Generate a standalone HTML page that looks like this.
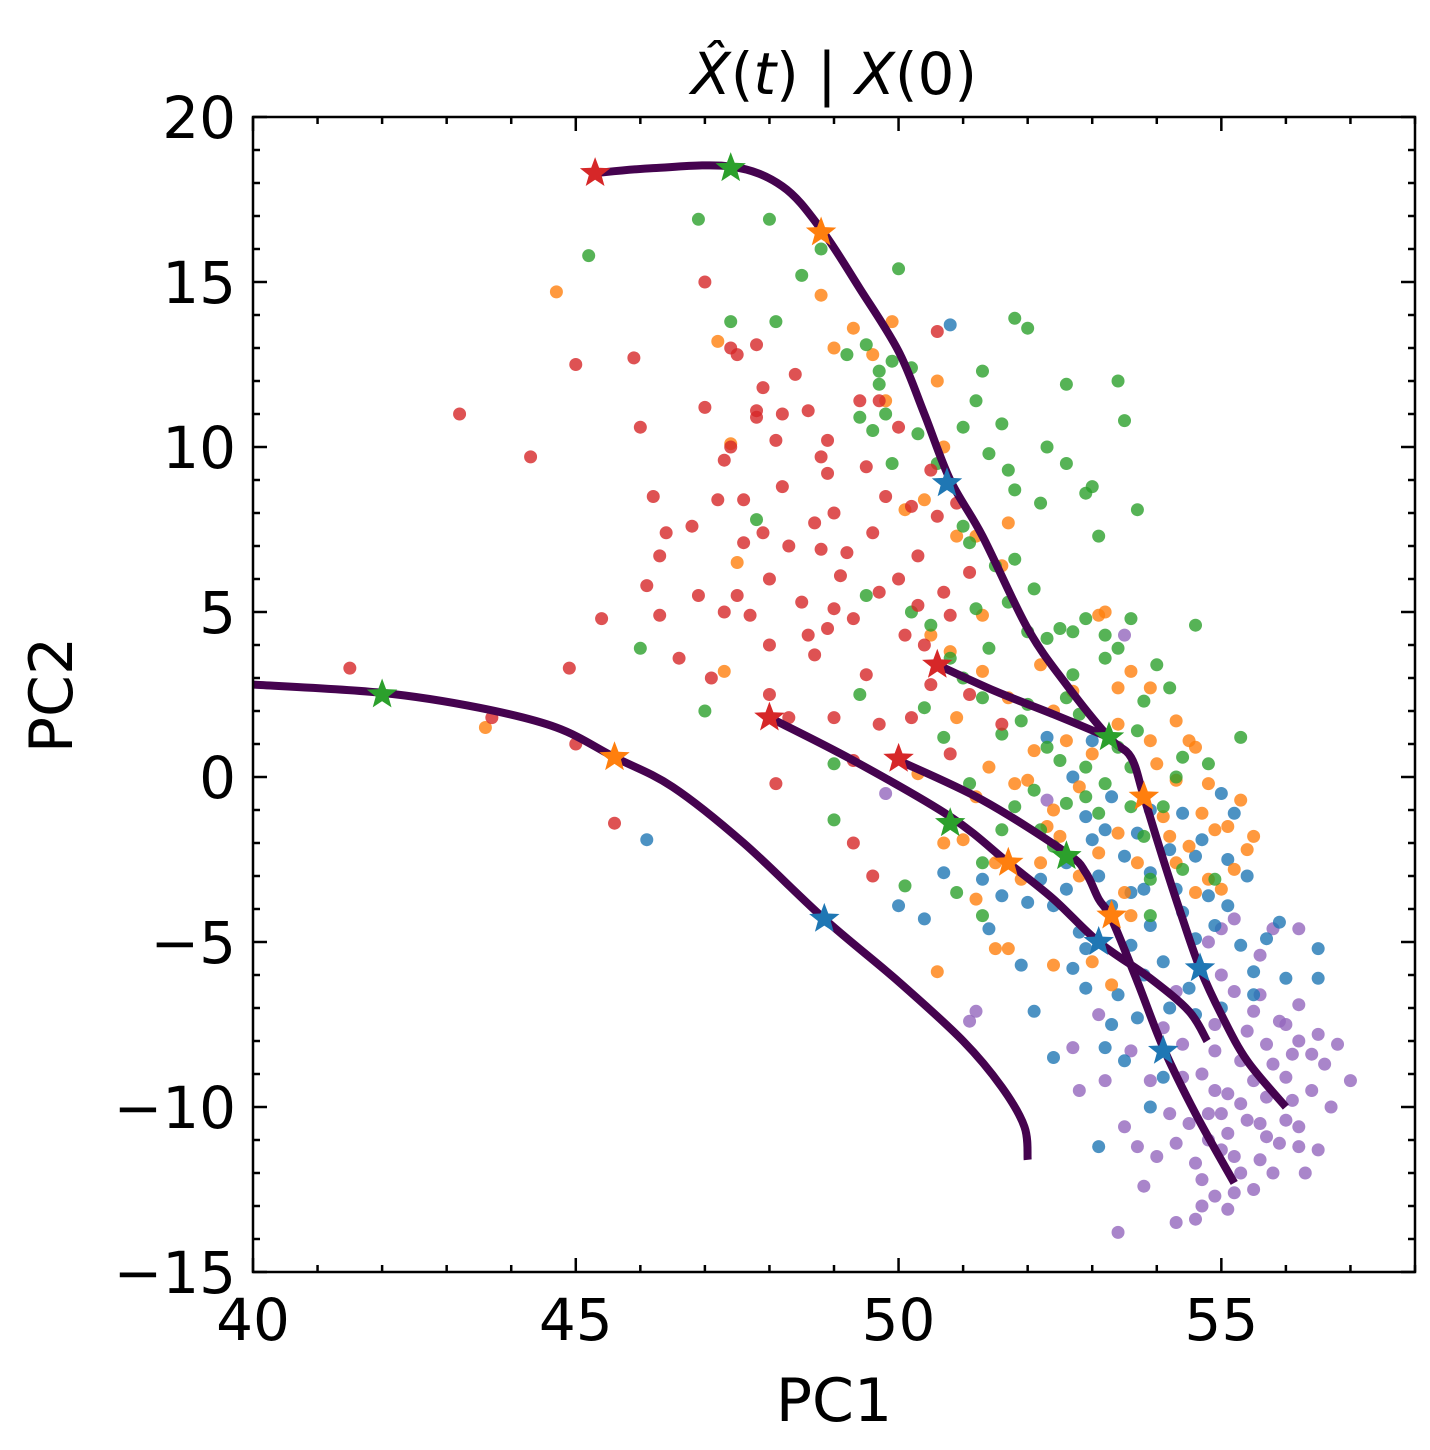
<!DOCTYPE html>
<html><head><meta charset="utf-8"><style>
html,body{margin:0;padding:0;background:#fff;}
svg{display:block;font-family:"DejaVu Sans","Liberation Sans",sans-serif;}
</style></head><body>
<svg id="chart" width="1430" height="1450" viewBox="0 0 1430 1450" xmlns="http://www.w3.org/2000/svg">
<text x="834" y="94" text-anchor="middle" font-size="58"><tspan font-style="italic">X̂</tspan>(<tspan font-style="italic">t</tspan>) | <tspan font-style="italic">X</tspan>(0)</text>
<g id="plot"></g>
<rect x="253" y="117" width="1162" height="1155" fill="none" stroke="#000" stroke-width="2.5"/>
<g id="axes"></g>
<text x="834" y="1421" text-anchor="middle" font-size="60">PC1</text>
<text x="0" y="0" transform="translate(72,695) rotate(-90)" text-anchor="middle" font-size="60">PC2</text>
</svg>
<script>
const xTicks=[40,45,50,55];
const yTicks=[-15,-10,-5,0,5,10,15,20];
const yTickLabels=["−15","−10","−5","0","5","10","15","20"];
const redPts=[[41.5,3.3],[43.2,11],[44.3,9.7],[45,12.5],[44.9,3.3],[45.4,4.8],[45.9,12.7],[46,10.6],[46.2,8.5],[46.1,5.8],[46.3,6.7],[46.4,7.4],[46.3,4.9],[46.6,3.6],[46.8,7.6],[46.9,5.5],[47,15],[47,11.2],[47.2,8.4],[47.3,9.6],[47.4,10],[47.4,13],[47.5,12.8],[47.6,7.1],[47.5,5.5],[47.6,8.4],[47.7,4.9],[47.8,11.1],[47.8,13.1],[47.9,11.8],[47.9,7.4],[48,6],[48,4],[48.1,10.2],[48.2,8.8],[48.2,11],[48.3,7],[48.4,12.2],[48.5,5.3],[48.6,11.1],[48.7,7.7],[48.8,6.9],[48.8,9.7],[48.9,10.2],[49,5.1],[49,8],[49.2,6.8],[49.3,4.8],[49.4,11.4],[49.5,9.4],[49.6,7.4],[49.7,11.4],[49.8,8.5],[50,10.6],[50,6],[50.1,4.3],[50.2,8.2],[50.3,6.7],[50.4,4],[50.5,9.3],[50.6,13.5],[50.6,7.9],[50.7,5.6],[50.8,4.9],[51.1,6.2],[48.7,3.7],[48.3,1.8],[48.1,-0.2],[49,1.8],[49.3,0.5],[49.7,1.6],[49.3,-2],[49.6,-3],[50.2,1.8],[51.1,2.5],[45.6,-1.4],[45,1],[43.7,1.8],[48.6,4.3],[47.1,3],[48,2.5],[47.8,10.9],[48.9,9.2],[49.1,6.1],[50.3,5.2],[49.7,5.6],[50.9,8.3],[50.5,2.8],[50.8,0.7],[51.6,1.6],[48.9,4.5],[47.3,5],[49.5,3.1]];
const greenPts=[[45.2,15.8],[46,3.9],[47,2],[46.9,16.9],[47.4,13.8],[48,16.9],[48.1,13.8],[48.5,15.2],[48.8,16],[49.2,12.8],[49.5,13.1],[49.7,12.3],[49.7,11.9],[49.8,11],[49.4,10.9],[49.6,10.5],[49.9,12.6],[50,15.4],[50.2,12.4],[49.9,9.5],[50.3,10.4],[50.6,9.5],[51,10.6],[51.1,7.1],[51,7.6],[51.3,12.3],[51.2,11.4],[51.4,9.8],[51.6,10.7],[51.8,13.9],[52,13.6],[51.7,9.3],[51.8,8.7],[52.2,8.3],[52.3,10],[52.6,9.5],[52.9,8.6],[53,8.8],[53.1,7.3],[52.6,11.9],[53.4,12],[53.5,10.8],[53.7,8.1],[51.8,6.6],[51.5,6.4],[51.7,5.3],[52,4.4],[52.3,4.2],[52.5,4.5],[52.7,4.4],[52.9,4.8],[53.2,4.3],[53.4,3.9],[53.6,4.8],[54,3.4],[53.8,2.3],[54.2,2.7],[54.6,4.6],[50.5,4.6],[50.8,3.6],[51,3],[51.3,2.4],[51.6,1.3],[52,2.2],[52.6,2.4],[52.8,1.9],[52.5,0.5],[52.9,0.3],[53.2,-0.2],[53.6,0.3],[54.4,0.6],[54.8,0.4],[55.3,1.2],[52.6,-0.8],[52.2,-1.6],[51.1,-0.2],[51.3,-2.6],[51.6,-1.6],[50.9,-3.5],[51.3,-4.2],[50.1,-3.3],[49,0.4],[49,-1.3],[49.4,2.5],[53.8,-1.8],[53.9,-3.1],[54.4,-2.8],[54.9,-3.1],[52.1,-0.4],[47.8,7.8],[50.2,5],[49.5,5.5],[52.9,-0.6],[53.1,-1.1],[53.4,0.9],[53.6,-0.9],[52.7,3.1],[53.2,3.6],[51.9,1.7],[52.3,0.9],[53.7,1.4],[54.1,-0.9],[52.4,-2.1],[51.8,-0.9],[50.7,1.2],[51.4,3.9],[52.1,5.7],[51.2,5.1],[50.4,2.1],[53.9,-4.2],[54.3,0]];
const orangePts=[[44.7,14.7],[43.6,1.5],[47.2,13.2],[47.4,10.1],[47.5,6.5],[47.3,3.2],[48.8,14.6],[49,13],[49.3,13.6],[49.6,12.8],[49.8,11.4],[49.9,13.8],[50.6,12],[50.4,8.4],[50.1,8.1],[50.9,7.3],[50.7,10],[51.2,7.3],[51.6,6.4],[51.7,7.7],[51.3,4.9],[50.5,4.3],[50.8,3.8],[51.3,3.2],[51.7,2.4],[52.2,3.4],[52.4,2],[52.7,2.6],[52.6,1.1],[53.1,4.9],[53.2,5],[53.6,3.2],[53.4,2.7],[53.9,2.7],[53.9,1.1],[54.3,1.7],[54.6,0.9],[54.3,-0.1],[54.8,-0.2],[55.3,-0.7],[54.7,-1.1],[55.1,-1.5],[55.5,-1.8],[54.2,-1.8],[54.5,-2.1],[54.8,-3.1],[55,-3.4],[52,-0.1],[51.2,-0.6],[51.8,-0.2],[52.4,-1],[53,0.7],[53.4,-1.7],[53.1,-2.3],[52.8,-3],[52.2,-2.6],[51.9,-3.1],[51.5,-2.6],[51,-1.9],[51.2,-3.7],[51.5,-5.2],[51.7,-5.2],[50.6,-5.9],[52.4,-5.7],[53,-5.6],[52.3,-1.5],[52.8,-0.3],[50.3,0.1],[50.7,-2],[53.5,-3.5],[53.6,-4.2],[53.3,-6.3],[54.5,1.1],[54.1,-1.2],[55.2,-2.8],[54.9,-1.6],[54,0.4],[53.7,-2.6],[52.5,-1.8],[52.1,0.8],[51.4,0.3],[50.9,1.8],[54.6,-3.5],[55.4,-2.2],[53.4,1.6],[54.3,-2.6]];
const bluePts=[[50.8,13.7],[46.1,-1.9],[50,-3.9],[50.4,-4.3],[50.7,-2.9],[51.4,-4.6],[51.6,-3.6],[52,-3.8],[52.2,-3.1],[52.6,-3.4],[52.8,-4.7],[53.3,-3.9],[53.6,-3.5],[53.9,-4.5],[54.4,-4.1],[54.8,-3.6],[55.1,-3.9],[53.2,-1.6],[52.9,-1.2],[53.3,-0.6],[53.7,-1.7],[54.4,-1.1],[54.7,-1.9],[55.1,-2.5],[55.2,-1.1],[52.7,0],[52.3,1.2],[53,1.1],[52.7,-5.8],[52.4,-8.5],[53.2,-8.2],[52.1,-7.1],[53.4,-6.6],[53.7,-7.3],[54.2,-7],[53.5,-8.6],[54.6,-4.9],[55.3,-5.1],[55.7,-4.9],[56,-6.1],[56.5,-5.2],[55.9,-4.4],[55.5,-5.9],[54.1,-9.1],[53.9,-10],[53.1,-11.2],[52.4,-3.9],[53.9,-2.9],[54.5,-6.4],[54.1,-5.6],[53.8,-6],[51.9,-5.7],[55,-7],[53,-1.9],[54.6,-2.4],[55,-0.5],[53.5,-2.4],[53.8,-3.4],[54.2,-2.2],[53.1,-3],[52.9,-5.2],[53.6,-5.1],[54.3,-3.4],[54.9,-4.5],[55.4,-3],[53.3,-7.5],[52.9,-6.4],[53.9,-1],[52.6,-2.6],[54.6,-7.2],[55.5,-6.6],[56.5,-6.1],[51.3,-3.1]];
const purplePts=[[51.1,-7.4],[51.2,-7.1],[52.7,-8.2],[53.1,-7.2],[53.6,-8.3],[53.2,-9.2],[53.5,-10.6],[52.8,-9.5],[53.7,-11.2],[53.8,-12.4],[53.4,-13.8],[54,-11.5],[54.2,-10.2],[54.4,-9.1],[54.6,-11.7],[54.9,-12.7],[54.7,-13],[54.6,-13.4],[55.1,-13.1],[54.8,-11],[55,-10.2],[55.2,-11.5],[55.4,-10.4],[55.6,-11.6],[55.8,-12],[55.5,-9.2],[55.3,-8.6],[55.7,-8.1],[56,-7.5],[56.2,-8],[56.4,-8.4],[56.6,-8.7],[56.8,-8.1],[57,-9.2],[56.5,-7.8],[56.2,-6.9],[55.9,-7.4],[55.5,-7.1],[55.2,-6.5],[55,-6],[54.8,-5],[55,-4.6],[55.2,-4.3],[55.8,-4.6],[56.2,-4.6],[55.6,-5.4],[56,-10.4],[56.2,-11.2],[56.5,-11.3],[55.9,-11.1],[55.3,-12],[54.3,-13.5],[54.7,-12.2],[55.1,-10.8],[55.7,-9.7],[56.4,-9.5],[56.1,-9.8],[55.6,-10.5],[54.5,-10.5],[54.9,-9.5],[53.5,4.3],[52.3,-0.7],[49.8,-0.5],[54.3,-6.5],[54.1,-7.6],[56.7,-10],[56.3,-12],[54.9,-8.3],[55.4,-7.7],[54.8,-10.2],[55.3,-9.9],[55,-11.3],[55.5,-12.5],[54.7,-9],[55.8,-8.7],[56,-9.1],[55.1,-9.6],[54.3,-11.1],[55.6,-6.6],[56.1,-8.4],[55.2,-12.6],[54.9,-7.5],[55.7,-10.9],[56.2,-10.6],[53.9,-9.2],[54.4,-8.1]];
const trajTop=[[45.3,18.3],[46.2,18.45],[47.4,18.5],[48.2,17.9],[48.8,16.6],[49.4,14.8],[50,12.9],[50.4,11],[50.8,9],[51.3,7.3],[52,4.5],[52.6,2.8],[53.26,1.2],[53.6,0.6],[53.8,-0.6],[54.1,-2.5],[54.4,-4.3],[54.67,-5.8],[55,-7.2],[55.4,-8.6],[56,-10]];
const trajRedA=[[50.6,3.4],[51.5,2.6],[52.4,1.9],[53.26,1.2]];
const trajRedB=[[48,1.8],[49.3,0.5],[50.8,-1.2],[51.7,-2.6],[52.4,-3.7],[53.1,-5],[53.9,-6.1],[54.5,-7.1],[54.78,-8.0]];
const trajRedC=[[50,0.5],[51.3,-0.7],[52.6,-2.3],[52.9,-2.9],[53.1,-3.7],[53.3,-4.3],[53.7,-6.2],[54.1,-8.2],[54.6,-10.2],[55.2,-12.3]];
const trajLeft=[[40,2.8],[42,2.55],[43.5,2.1],[44.7,1.5],[45.6,0.6],[46.5,-0.3],[47.6,-2],[48.85,-4.3],[50,-6.2],[51,-8],[51.6,-9.4],[51.95,-10.6],[52,-11.6]];
const starsRed=[[45.3,18.3],[50.6,3.4],[48,1.8],[50,0.55]];
const starsGreen=[[47.4,18.45],[42,2.5],[53.26,1.2],[50.8,-1.4],[52.6,-2.4]];
const starsOrange=[[48.8,16.5],[45.6,0.6],[53.8,-0.6],[51.7,-2.6],[53.3,-4.2]];
const starsBlue=[[50.75,8.9],[48.85,-4.3],[54.67,-5.8],[53.1,-5.0],[54.1,-8.3]];

const NS="http://www.w3.org/2000/svg";
const X0=253,X1=1415,Y0=1272,Y1=117;
function sx(v){return X0+(v-40)/18*(X1-X0);}
function sy(v){return Y0-(v+15)/35*(Y0-Y1);}
const plot=document.getElementById('plot');
const axes=document.getElementById('axes');
function mk(tag,attrs,parent){const e=document.createElementNS(NS,tag);for(const k in attrs)e.setAttribute(k,attrs[k]);parent.appendChild(e);return e;}

const scatter=[[purplePts,'#9467bd','purple'],[bluePts,'#1f77b4','blue'],[orangePts,'#ff7f0e','orange'],[greenPts,'#2ca02c','green'],[redPts,'#d62728','red']];
scatter.forEach(([pts,col,nm])=>{
  pts.forEach(p=>{
    const c=mk('circle',{cx:sx(p[0]),cy:sy(p[1]),r:6.5,fill:col,'fill-opacity':0.8},plot);
    
    
  });
});
function smooth(pts){
  const P=pts.map(p=>[sx(p[0]),sy(p[1])]);
  let d='M'+P[0][0]+','+P[0][1];
  for(let i=0;i<P.length-1;i++){
    const p0=P[Math.max(i-1,0)],p1=P[i],p2=P[i+1],p3=P[Math.min(i+2,P.length-1)];
    const c1=[p1[0]+(p2[0]-p0[0])/6,p1[1]+(p2[1]-p0[1])/6];
    const c2=[p2[0]-(p3[0]-p1[0])/6,p2[1]-(p3[1]-p1[1])/6];
    d+=' C'+c1+' '+c2+' '+p2;
  }
  return d;
}
[[trajTop,'trajectory-top'],[trajRedA,'trajectory-a'],[trajRedB,'trajectory-b'],[trajRedC,'trajectory-c'],[trajLeft,'trajectory-left']].forEach(([t,nm])=>{
  const p=mk('path',{d:smooth(t),fill:'none',stroke:'#45034f','stroke-width':8,'stroke-linejoin':'round'},plot);
  
  
});
function starPath(cx,cy,R){
  const r=R*0.42;let d='';
  for(let i=0;i<10;i++){const a=-Math.PI/2+i*Math.PI/5;const rr=i%2?r:R;d+=(i?'L':'M')+(cx+rr*Math.cos(a)).toFixed(1)+','+(cy+rr*Math.sin(a)).toFixed(1);}
  return d+'Z';
}
[[starsRed,'#d62728','red'],[starsGreen,'#2ca02c','green'],[starsOrange,'#ff7f0e','orange'],[starsBlue,'#1f77b4','blue']].forEach(([s,col,nm])=>{
  s.forEach(p=>{
    const e=mk('path',{d:starPath(sx(p[0]),sy(p[1]),16),fill:col},plot);
    
    
  });
});
for(let v=40;v<=58;v++){
  const major=xTicks.includes(v), L=major?14:7, x=sx(v);
  mk('line',{x1:x,y1:Y0,x2:x,y2:Y0-L,stroke:'#000','stroke-width':2.5},axes);
  mk('line',{x1:x,y1:Y1,x2:x,y2:Y1+L,stroke:'#000','stroke-width':2.5},axes);
}
xTicks.forEach(v=>{
  const t=mk('text',{x:sx(v),y:1340,'text-anchor':'middle','font-size':58},axes);
  t.textContent=v;
  
  
});
for(let v=-15;v<=20;v++){
  const major=yTicks.includes(v), L=major?14:7, y=sy(v);
  mk('line',{x1:X0,y1:y,x2:X0+L,y2:y,stroke:'#000','stroke-width':2.5},axes);
  mk('line',{x1:X1,y1:y,x2:X1-L,y2:y,stroke:'#000','stroke-width':2.5},axes);
}
yTicks.forEach((v,i)=>{
  const t=mk('text',{x:236,y:sy(v)+21,'text-anchor':'end','font-size':58},axes);
  t.textContent=yTickLabels[i];
  
  
});
</script>
</body></html>
